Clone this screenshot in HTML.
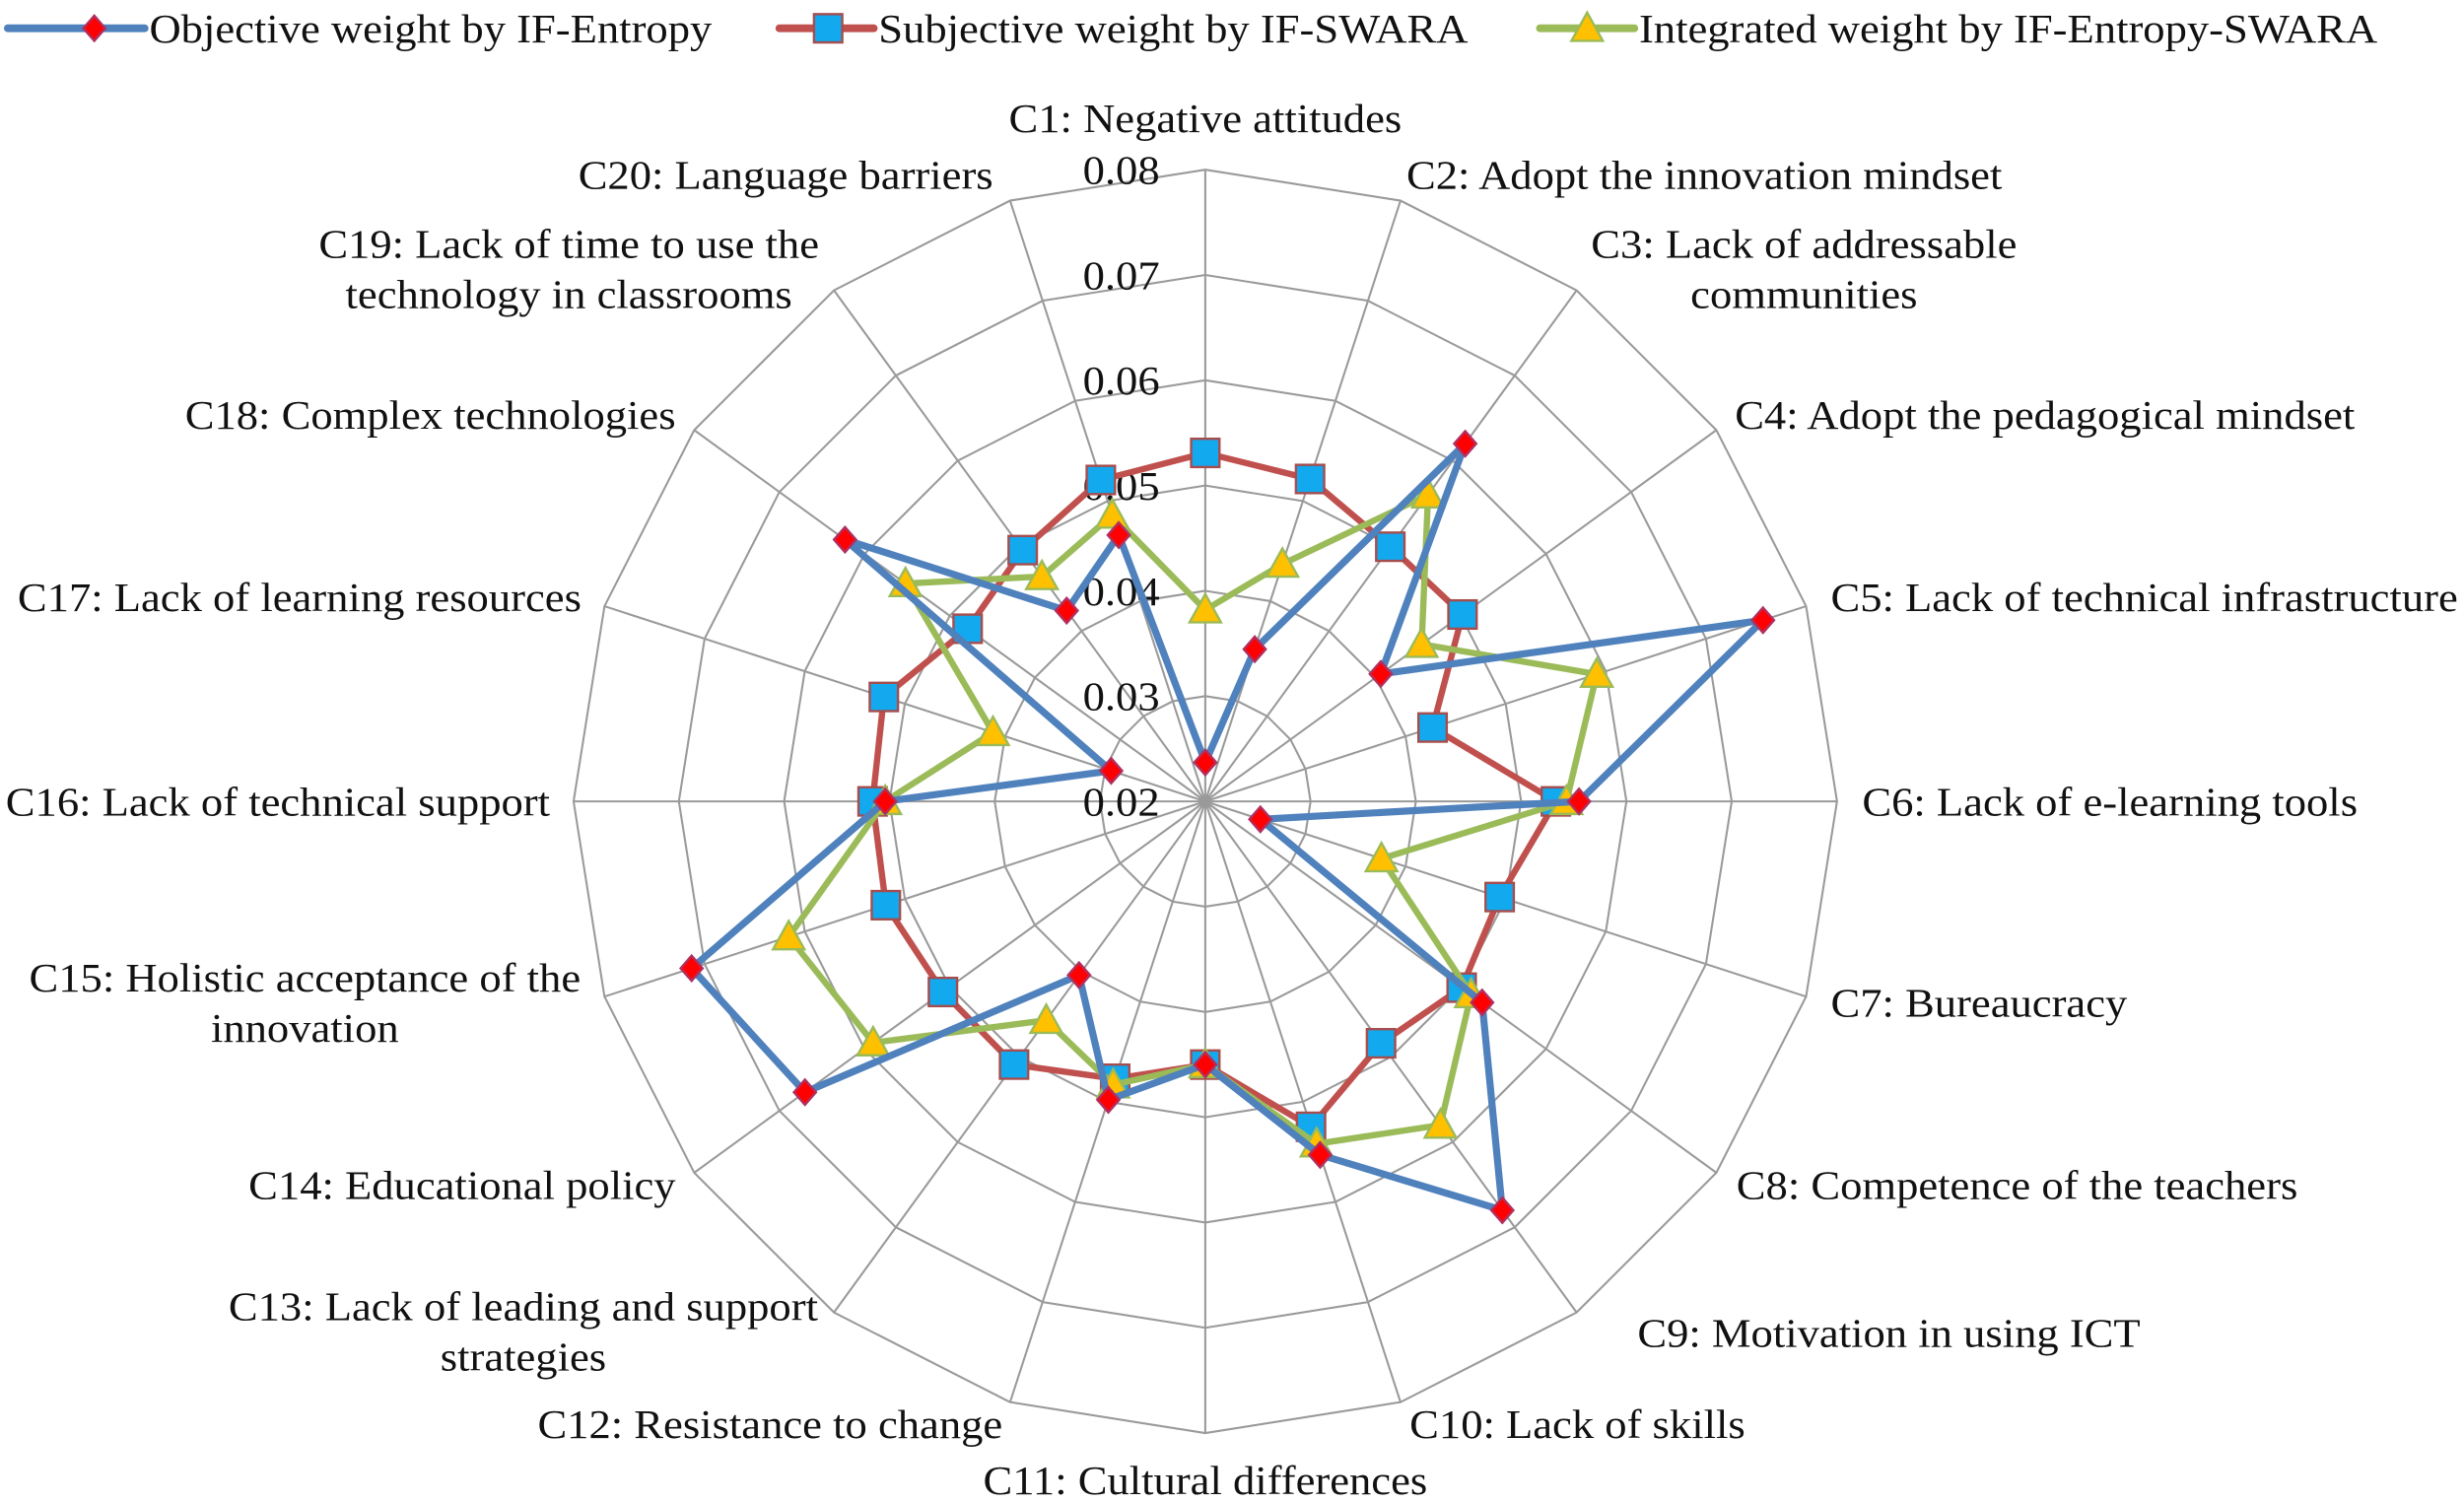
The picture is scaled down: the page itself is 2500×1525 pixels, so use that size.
<!DOCTYPE html>
<html><head><meta charset="utf-8"><style>
html,body{margin:0;padding:0;background:#fff}
svg{display:block}
text{font-family:"Liberation Serif","DejaVu Serif",serif;fill:#111}
</style></head><body>
<svg id="chart" width="2500" height="1525" viewBox="0 0 1568 956.5" preserveAspectRatio="none" xmlns="http://www.w3.org/2000/svg">
<g id="grid"></g>
<g id="ticks"></g>
<g id="labels"></g>
<g id="series"></g>
<g id="legend"></g>
</svg>
<script>
const categories = ["C1: Negative attitudes","C2: Adopt the innovation mindset","C3: Lack of addressable|communities","C4: Adopt the pedagogical mindset","C5: Lack of technical infrastructure","C6: Lack of e-learning tools","C7: Bureaucracy","C8: Competence of the teachers","C9: Motivation in using ICT","C10: Lack of skills","C11: Cultural differences","C12: Resistance to change","C13: Lack of leading and support|strategies","C14: Educational policy","C15: Holistic acceptance of the|innovation","C16: Lack of technical support","C17: Lack of learning resources","C18: Complex technologies","C19: Lack of time to use the|technology in classrooms","C20: Language barriers"];
const objectiveValues = [0.0237,0.0352,0.0620,0.0406,0.0757,0.0555,0.0255,0.0525,0.0680,0.0553,0.0450,0.0498,0.0404,0.0670,0.0713,0.0504,0.0294,0.0623,0.0424,0.0466];
const subjectiveValues = [0.0531,0.0522,0.0499,0.0502,0.0427,0.0533,0.0494,0.0501,0.0484,0.0525,0.0450,0.0477,0.0509,0.0508,0.0519,0.0516,0.0521,0.0479,0.0495,0.0521];
const integratedValues = [0.0382,0.0437,0.0560,0.0454,0.0591,0.0543,0.0376,0.0512,0.0580,0.0542,0.0450,0.0483,0.0457,0.0590,0.0616,0.0504,0.0412,0.0552,0.0464,0.0486];
const tickValues = [0.02,0.03,0.04,0.05,0.06,0.07,0.08];
const tickLabels = ["0.02","0.03","0.04","0.05","0.06","0.07","0.08"];
const seriesNames = ["Objective weight by IF-Entropy","Subjective weight by IF-SWARA","Integrated weight by IF-Entropy-SWARA"];

const NS="http://www.w3.org/2000/svg";
const CX=767, CY=510, R=402, VMIN=0.02, VMAX=0.08, FS=26, STRETCH=1.076;
function rScale(v){return (v-VMIN)/(VMAX-VMIN)*R;}
function ang(i){return -Math.PI/2 + i*2*Math.PI/categories.length;}
function pt(i,v){const r=rScale(v),a=ang(i);return [CX+r*Math.cos(a),CY+r*Math.sin(a)];}
function mk(tag,attrs,parent){const e=document.createElementNS(NS,tag);for(const k in attrs)e.setAttribute(k,attrs[k]);parent.appendChild(e);return e;}
function stretch(t){const L=t.getComputedTextLength();if(L>0){t.setAttribute('textLength',L*STRETCH);t.setAttribute('lengthAdjust','spacingAndGlyphs');}}

const grid=document.getElementById('grid');
tickValues.slice(1).forEach((t,k)=>{
  const pts=categories.map((c,i)=>pt(i,t).join(',')).join(' ');
  const p=mk('polygon',{points:pts,fill:'none',stroke:'#9a9a9a','stroke-width':1.3},grid);
  
  
});
categories.forEach((c,i)=>{
  const [x,y]=pt(i,VMAX);
  const l=mk('line',{x1:CX,y1:CY,x2:x,y2:y,stroke:'#9a9a9a','stroke-width':1.3},grid);
  
  
});
const ticks=document.getElementById('ticks');
tickValues.forEach((t,k)=>{
  const tx=mk('text',{x:738,y:CY-rScale(t)+9,'text-anchor':'end','font-size':FS},ticks);
  tx.textContent=tickLabels[k];
  
  
  stretch(tx);
});
const labelPos=[[767,75,'middle'],[895,111,'start'],[1148,155,'middle'],[1104,264,'start'],[1165,380,'start'],[1185,510,'start'],[1165,638,'start'],[1105,754,'start'],[1042,848,'start'],[897,906,'start'],[767,942,'middle'],[638,906,'end'],[333,831,'middle'],[430,754,'end'],[194,622,'middle'],[350,510,'end'],[370,380,'end'],[430,264,'end'],[362,155,'middle'],[632,111,'end']];
const labels=document.getElementById('labels');
categories.forEach((c,i)=>{
  const [x,y,a]=labelPos[i];
  c.split('|').forEach((line,j)=>{
    const t=mk('text',{x:x,y:y+9+j*32,'text-anchor':a,'font-size':FS},labels);
    t.textContent=line;
    
    
    stretch(t);
  });
});
function marker(type,x,y,parent){
  let e;
  if(type==='diamond') e=mk('polygon',{points:`${x},${y-8} ${x+7},${y} ${x},${y+8} ${x-7},${y}`,fill:'#ff0000',stroke:'#b03060','stroke-width':1.5},parent);
  else if(type==='square') e=mk('rect',{x:x-9,y:y-9,width:18,height:18,fill:'#12a9ef',stroke:'#a64d4d','stroke-width':1.5},parent);
  else e=mk('polygon',{points:`${x},${y-10} ${x+10},${y+8} ${x-10},${y+8}`,fill:'#ffc000',stroke:'#9bbb59','stroke-width':1.5},parent);
  return e;
}
const series=document.getElementById('series');
const defs=[[subjectiveValues,'#c0504d','square',4,'subjective'],[integratedValues,'#9bbb59','triangle',4,'integrated'],[objectiveValues,'#4f81bd','diamond',4.5,'objective']];
defs.forEach(([vals,col,m,w,nm])=>{
  const g=mk('g',{},series);
  
  
  const pts=vals.map((v,i)=>pt(i,v).join(',')).join(' ');
  const pl=mk('polygon',{points:pts,fill:'none',stroke:col,'stroke-width':w,'stroke-linejoin':'round'},g);
  
  
  vals.forEach((v,i)=>{const [x,y]=pt(i,v);const e=marker(m,x,y,g);
    
    });
});
const legend=document.getElementById('legend');
const lx=[[5,92,60],[496,556,527],[980,1040,1010]];
const lcol=['#4f81bd','#c0504d','#9bbb59'], lm=['diamond','square','triangle'];
seriesNames.forEach((n,k)=>{
  const g=mk('g',{},legend);
  
  
  mk('line',{x1:lx[k][0],y1:18,x2:lx[k][1],y2:18,stroke:lcol[k],'stroke-width':5,'stroke-linecap':'round'},g);
  marker(lm[k],lx[k][2],18,g);
  const t=mk('text',{x:lx[k][1]+3,y:27,'font-size':FS},g);
  t.textContent=n;
  
  
  stretch(t);
});
</script>
</body></html>
